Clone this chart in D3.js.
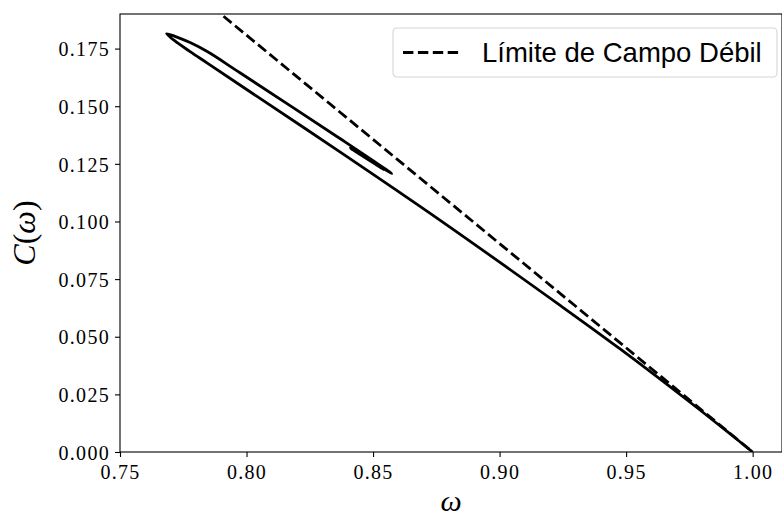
<!DOCTYPE html>
<html>
<head>
<meta charset="utf-8">
<script src="https://cdnjs.cloudflare.com/ajax/libs/d3/7.8.5/d3.min.js"></script>
<style>
  body { margin: 0; background: #fff; }
  .tick text { font-family: "Liberation Serif", "DejaVu Serif", serif; font-size: 20px; letter-spacing: 1.3px; }
</style>
</head>
<body>
<div id="my_dataviz"></div>
<script>
// curve C(omega) (starts at omega = 1, goes round the tip, ends in the small spiral)
var curveOmega = [1.000, 0.990, 0.975, 0.9475, 0.9238, 0.8764, 0.8369, 0.7974, 0.7848, 0.7777, 0.7717, 0.7684,
                  0.7717, 0.7777, 0.7848, 0.7974, 0.8369, 0.8574, 0.8410, 0.8545, 0.8450];
var curveC     = [0.0000, 0.0088, 0.0218, 0.0448, 0.0637, 0.1006, 0.1302, 0.1592, 0.1685, 0.1737, 0.1783, 0.1815,
                  0.1803, 0.1776, 0.1735, 0.1645, 0.1360, 0.1208, 0.1318, 0.1224, 0.1292];

// weak field limit (straight dashed line)
var weakOmega = [0.75, 1.00];
var weakC     = [0.226, 0.000];

var xTicks = [0.75, 0.80, 0.85, 0.90, 0.95, 1.00];
var yTicks = [0.000, 0.025, 0.050, 0.075, 0.100, 0.125, 0.150, 0.175];
var legendLabel = "Límite de Campo Débil";

// set the dimensions and margins of the graph
var margin = {top: 14, right: 0, bottom: 69, left: 120},
    width = 782 - margin.left - margin.right,
    height = 521 - margin.top - margin.bottom;

var svg = d3.select("#my_dataviz")
  .append("svg")
    .attr("width", 782)
    .attr("height", 521)
  .append("g")
    .attr("transform", "translate(" + margin.left + "," + margin.top + ")");

var x = d3.scaleLinear()
  .domain([0.75, 1.0116])
  .range([0, width]);

var y = d3.scaleLinear()
  .domain([0, 0.19])
  .range([height, 0]);

svg.append("clipPath")
    .attr("id", "clip")
  .append("rect")
    .attr("width", width)
    .attr("height", height);

// axes
var xAxis = svg.append("g")
  .attr("transform", "translate(0," + height + ")")
  .call(d3.axisBottom(x).tickValues(xTicks).tickFormat(d3.format(".2f")).tickSize(5).tickPadding(8));
var yAxis = svg.append("g")
  .call(d3.axisLeft(y).tickValues(yTicks).tickFormat(d3.format(".3f")).tickSize(5).tickPadding(5));

[xAxis, yAxis].forEach(function(a) {
  a.select(".domain").remove();
  a.selectAll(".tick line").attr("stroke", "#000").attr("stroke-width", 1.1);
  a.selectAll(".tick text").attr("fill", "#000");
});
yAxis.selectAll(".tick text").attr("dy", "0.36em");

// frame
svg.append("rect")
  .attr("width", width)
  .attr("height", height)
  .attr("fill", "none")
  .attr("stroke", "#000")
  .attr("stroke-width", 1.1);

var line = d3.line()
  .x(function(d) { return x(d[0]); })
  .y(function(d) { return y(d[1]); });

// weak field line
svg.append("path")
  .datum(d3.zip(weakOmega, weakC))
  .attr("clip-path", "url(#clip)")
  .attr("d", line)
  .attr("fill", "none")
  .attr("stroke", "#000")
  .attr("stroke-width", 2.8)
  .attr("stroke-dasharray", "10.4,4.5");

// solution curve
svg.append("path")
  .datum(d3.zip(curveOmega, curveC))
  .attr("clip-path", "url(#clip)")
  .attr("d", line.curve(d3.curveCatmullRom.alpha(0.5)))
  .attr("fill", "none")
  .attr("stroke", "#000")
  .attr("stroke-width", 2.8)
  .attr("stroke-linejoin", "round");

// legend
var lg = svg.append("g").attr("transform", "translate(" + (393 - margin.left) + "," + (28 - margin.top) + ")");
lg.append("rect")
  .attr("width", 384)
  .attr("height", 49)
  .attr("rx", 4)
  .attr("fill", "#fff")
  .attr("stroke", "#d5d5d5")
  .attr("stroke-width", 1.1);
lg.append("line")
  .attr("x1", 10).attr("x2", 66)
  .attr("y1", 24.5).attr("y2", 24.5)
  .attr("stroke", "#000")
  .attr("stroke-width", 2.8)
  .attr("stroke-dasharray", "10.4,4.5");
lg.append("text")
  .attr("x", 89)
  .attr("y", 34)
  .style("font-family", "'Liberation Sans', Arial, sans-serif")
  .style("font-size", "27.5px")
  .text(legendLabel);

// axis labels
svg.append("text")
  .attr("x", width / 2)
  .attr("y", height + 59)
  .attr("text-anchor", "middle")
  .style("font-family", "'Liberation Serif', serif")
  .style("font-size", "30px")
  .style("font-style", "italic")
  .text("ω");

var yl = svg.append("text")
  .attr("transform", "translate(" + (-85) + "," + (height / 2) + ") rotate(-90)")
  .attr("text-anchor", "middle")
  .style("font-family", "'Liberation Serif', serif")
  .style("font-size", "32px");
yl.append("tspan").style("font-style", "italic").text("C");
yl.append("tspan").text("(");
yl.append("tspan").style("font-style", "italic").text("ω");
yl.append("tspan").text(")");
</script>
</body>
</html>
